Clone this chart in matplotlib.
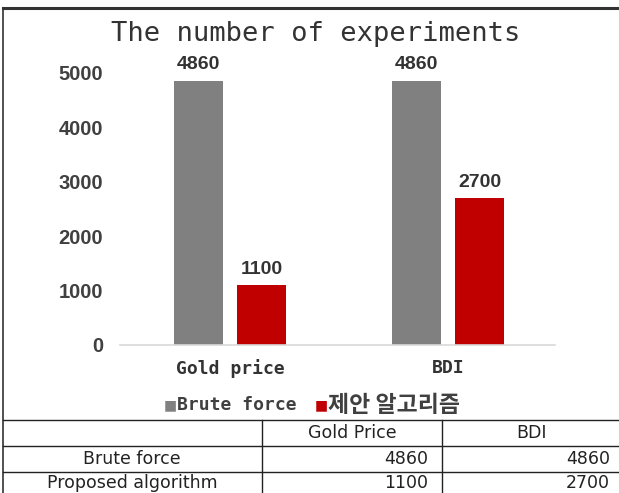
import matplotlib
matplotlib.use("Agg")
import matplotlib.pyplot as plt
from matplotlib.lines import Line2D
import numpy as np

W, H = 619, 493

categories = ["Gold price", "BDI"]
series_names = ["Brute force", "제안 알고리즘"]
brute_force = [4860, 4860]
proposed = [1100, 2700]
colors = ["#808080", "#c00000"]
yticks = [0, 1000, 2000, 3000, 4000, 5000]

table_cols = ["Gold Price", "BDI"]
table_rows = ["Brute force", "Proposed algorithm"]
table_vals = [brute_force, proposed]


def fx(x):
    return x / W


def fy(y):
    return 1 - y / H


fig = plt.figure(figsize=(W / 100, H / 100), dpi=100)

# chart area
ax = fig.add_axes([fx(120), fy(345), fx(555) - fx(120), fy(73) - fy(345)])
x = np.arange(len(categories))
bw = 0.225
off = 0.145
b1 = ax.bar(x - off, brute_force, bw, color=colors[0])
b2 = ax.bar(x + off, proposed, bw, color=colors[1])
ax.set_xlim(-0.505, 1.49)
ax.set_ylim(0, 5000)
for s in ["top", "right", "left"]:
    ax.spines[s].set_visible(False)
ax.spines["bottom"].set_color("#d9d9d9")
ax.spines["bottom"].set_linewidth(1.2)
ax.set_yticks(yticks)
ax.set_yticklabels([str(t) for t in yticks], fontsize=14.5, fontweight="bold",
                   color="#404040", family="Liberation Sans")
ax.tick_params(axis="y", length=0, pad=12)
ax.set_xticks(x)
ax.set_xticklabels(categories, fontsize=13, fontweight="bold", color="#333333",
                   family="DejaVu Sans Mono")
ax.tick_params(axis="x", length=0, pad=10)

for bars, vals in [(b1, brute_force), (b2, proposed)]:
    for r, v in zip(bars, vals):
        ax.text(r.get_x() + r.get_width() / 2, v + 140, str(v), ha="center",
                va="bottom", fontsize=14, fontweight="bold", color="#333333",
                family="Liberation Sans")

fig.text(fx(316), fy(41), "The number of experiments", ha="center",
         va="baseline", fontsize=19.5, color="#333333", family="DejaVu Sans Mono")

# legend
fig.text(fx(170), fy(405), "■", ha="center", va="center", fontsize=10,
         color=colors[0])
fig.text(fx(177), fy(405), series_names[0], ha="left", va="center",
         fontsize=13, fontweight="bold", color="#404040",
         family=["DejaVu Sans Mono", "Noto Sans CJK KR"])
fig.text(fx(321), fy(405), "■", ha="center", va="center", fontsize=10,
         color=colors[1])
fig.text(fx(328), fy(405), series_names[1], ha="left", va="center",
         fontsize=16.5, fontweight="bold", color="#404040",
         family=["Noto Sans CJK KR", "DejaVu Sans"])

# outer frame
fig.add_artist(Line2D([fx(3), 1], [fy(8), fy(8)], color="#333333", lw=2.2))
fig.add_artist(Line2D([fx(3), fx(3)], [fy(8), 0], color="#333333", lw=1.2))

# table
for yy in [420, 446, 472]:
    fig.add_artist(Line2D([fx(3), 1], [fy(yy), fy(yy)], color="#222222", lw=1))
for xx in [262, 442]:
    fig.add_artist(Line2D([fx(xx), fx(xx)], [fy(420), 0], color="#222222", lw=1))

tfont = dict(fontsize=12.5, color="#222222", family="DejaVu Sans")
col_centers = [352, 532]
col_rights = [428, 610]
for c, name in zip(col_centers, table_cols):
    fig.text(fx(c), fy(433), name, ha="center", va="center", **tfont)
for i, (name, vals) in enumerate(zip(table_rows, table_vals)):
    yy = 459 + 24 * i
    fig.text(fx(132), fy(yy), name, ha="center", va="center", **tfont)
    for r, v in zip(col_rights, vals):
        fig.text(fx(r), fy(yy), str(v), ha="right", va="center", **tfont)

fig.savefig("out.png", dpi=100)
